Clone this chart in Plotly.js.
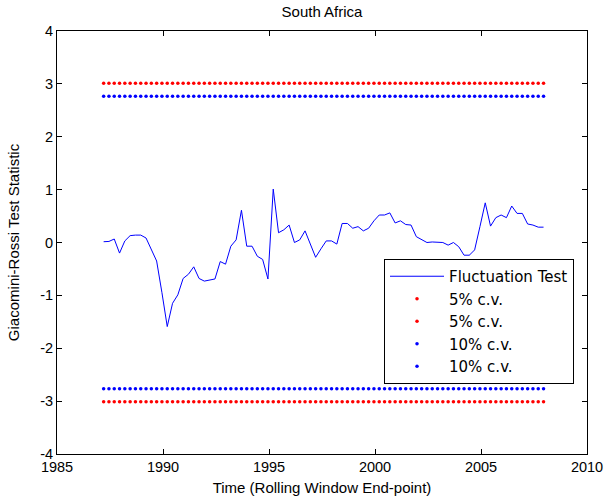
<!DOCTYPE html>
<html>
<head>
<meta charset="utf-8">
<script src="https://cdn.plot.ly/plotly-3.0.1.min.js"></script>
<style>html,body{margin:0;padding:0;background:#fff;}#chart{width:612px;height:499px;}</style>
</head>
<body>
<div id="chart"></div>
<script>
// Quarterly rolling-window end points (first point and step, in years)
const startYear = 1987.2;
const stepYear = 0.25;

// Giacomini-Rossi fluctuation test statistic
const fluctuation = [
  0.015, 0.02, 0.066, -0.20, 0.03, 0.13, 0.14, 0.14, 0.085, -0.14,
  -0.35, -0.95, -1.59, -1.15, -0.99, -0.68, -0.60, -0.46, -0.68, -0.73,
  -0.71, -0.69, -0.36, -0.41, -0.07, 0.05, 0.61, -0.07, -0.07, -0.26,
  -0.32, -0.69, 1.01, 0.185, 0.24, 0.33, 0.00, 0.05, 0.22, -0.05,
  -0.28, -0.12, 0.03, 0.03, -0.03, 0.36, 0.36, 0.27, 0.30, 0.22,
  0.27, 0.41, 0.52, 0.52, 0.56, 0.37, 0.41, 0.34, 0.33, 0.11,
  0.05, 0.00, 0.01, 0.01, 0.00, -0.05, 0.00, -0.08, -0.24, -0.24,
  -0.14, 0.30, 0.75, 0.31, 0.47, 0.52, 0.47, 0.69, 0.55, 0.55,
  0.35, 0.33, 0.29, 0.29
];

// Critical values
const cv5 = 3.012;
const cv10 = 2.766;

const seriesNames = ["Fluctuation Test", "5% c.v.", "5% c.v.", "10% c.v.", "10% c.v."];
const xTicks = [1985, 1990, 1995, 2000, 2005, 2010];
const yTicks = [-4, -3, -2, -1, 0, 1, 2, 3, 4];

const constant = v => fluctuation.map(() => v);

const dotTrace = (name, v, color, g) => ({
  type: 'scatter', mode: 'markers', name: name, legendgroup: g,
  x0: startYear, dx: stepYear, y: constant(v),
  marker: {color: color, size: 3.5, symbol: 'circle', line: {width: 0}},
  hoverinfo: 'skip'
});

const traces = [
  {type: 'scatter', mode: 'lines', name: seriesNames[0], legendgroup: 'g0',
   x0: startYear, dx: stepYear, y: fluctuation,
   line: {color: '#0000ff', width: 1}},
  dotTrace(seriesNames[1], cv5, '#ff0000', 'g1'),
  dotTrace(seriesNames[2], -cv5, '#ff0000', 'g2'),
  dotTrace(seriesNames[3], cv10, '#0000ff', 'g3'),
  dotTrace(seriesNames[4], -cv10, '#0000ff', 'g4')
];

const fam = 'Liberation Sans, Arial, sans-serif';
const tickFont = {family: fam, size: 14.5, color: '#000'};
const titleFont = {family: fam, size: 15, color: '#000'};

const axisCommon = {
  showline: true, linecolor: '#000', linewidth: 1, mirror: 'allticks',
  ticks: 'inside', ticklen: 5, tickcolor: '#000', tickwidth: 1,
  showgrid: false, zeroline: false, tickfont: tickFont
};

const layout = {
  width: 612, height: 499,
  margin: {l: 57, r: 25, t: 31, b: 45},
  paper_bgcolor: '#fff', plot_bgcolor: '#fff',
  font: tickFont,
  title: {text: 'South Africa', font: titleFont, x: 0.5, xref: 'paper', y: 0.986, yanchor: 'top'},
  xaxis: Object.assign({}, axisCommon, {
    range: [1985, 2010], tickvals: xTicks, ticktext: xTicks.map(String),
    title: {text: 'Time (Rolling Window End-point)', font: titleFont, standoff: 8}
  }),
  yaxis: Object.assign({}, axisCommon, {
    range: [-4, 4], tickvals: yTicks, ticktext: yTicks.map(String),
    title: {text: 'Giacomini-Rossi Test Statistic', font: titleFont, standoff: 16}
  }),
  showlegend: true,
  legend: {
    x: 0.617, xanchor: 'left', y: 0.461, yanchor: 'top',
    bordercolor: '#000', borderwidth: 1, bgcolor: '#fff',
    font: {family: 'DejaVu Sans, sans-serif', size: 15, color: '#000'},
    itemwidth: 54, traceorder: 'grouped', tracegroupgap: 0
  }
};

Plotly.newPlot('chart', traces, layout, {displayModeBar: false, staticPlot: true});
</script>
</body>
</html>
